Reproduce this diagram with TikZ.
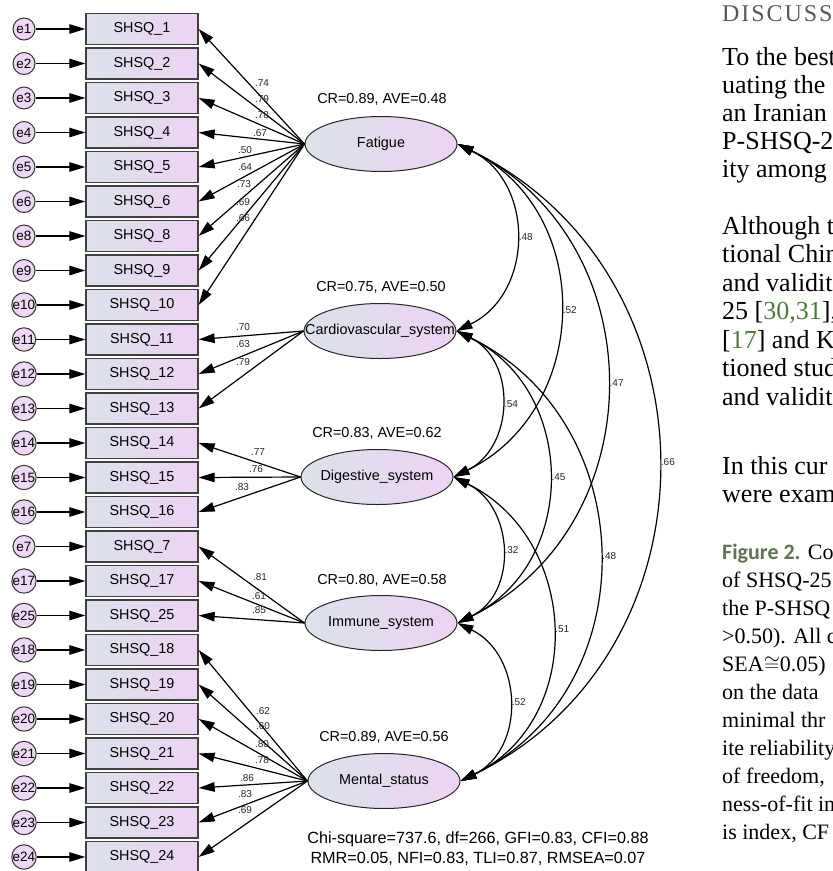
\documentclass[tikz,border=0pt]{standalone}
\usepackage{fontspec}
\setmainfont{Liberation Serif}
\newfontfamily\diagfont{Liberation Sans}
\newfontfamily\capfont{Carlito}
\usetikzlibrary{arrows.meta,shapes.geometric}

\definecolor{shadeblue}{RGB}{219,226,233}
\definecolor{shadepink}{RGB}{237,211,243}
\definecolor{errfill}{RGB}{238,216,245}
\definecolor{citegreen}{RGB}{76,122,60}
\definecolor{figgreen}{RGB}{96,116,84}
\definecolor{headgray}{RGB}{88,88,88}

\begin{document}
\begin{tikzpicture}[
  x=1pt,
  y=-1pt,
  >={Triangle[length=16pt,width=9.5pt]},
  itembox/.style={
    draw=black!75, line width=1.3pt,
    left color=shadeblue, right color=shadepink,
    minimum width=112pt, minimum height=31pt, inner sep=0pt,
    font=\diagfont\fontsize{14.4}{16}\selectfont
  },
  errcirc/.style={
    circle, draw=black!80, line width=1pt, fill=errfill,
    minimum size=22pt, inner sep=0pt,
    font=\diagfont\fontsize{13.5}{15}\selectfont
  },
  factor/.style={
    ellipse, draw=black!85, line width=1pt,
    left color=shadeblue, right color=shadepink,
    minimum width=152pt, minimum height=55pt, inner sep=0pt
  },
  diagtext/.style={font=\diagfont\fontsize{14.4}{19}\selectfont},
  coef/.style={font=\diagfont\fontsize{10}{11}\selectfont, inner sep=1pt, text=black!85},
  errarrow/.style={->, line width=1.2pt},
  loadarrow/.style={->, line width=1.2pt},
  covarrow/.style={<->, line width=1.2pt},
  bodytext/.style={anchor=base west, inner sep=0pt, font=\fontsize{26}{28}\selectfont},
  captext/.style={anchor=base west, inner sep=0pt, font=\fontsize{22}{26}\selectfont}
]

% Canvas
\useasboundingbox (0,0) rectangle (833,871);
\clip (0,0) rectangle (833,871);

% Observed items and their error terms
\foreach \n [count=\i from 0] in {1,2,3,4,5,6,8,9,10,11,12,13,14,15,16,7,17,25,18,19,20,21,22,23,24} {
  \node[itembox] (q\n) at (142,29+34.5*\i) {SHSQ\_\n};
  \node[errcirc] (e\n) at (24,29+34.5*\i) {e\n};
  \draw[errarrow] (e\n) -- (q\n);
}

% Latent factors
\node[factor, label={[diagtext]center:Fatigue}] (fat) at (381,144) {};
\node[factor, label={[diagtext]center:Cardiovascular\_system}] (card) at (380,331) {};
\node[factor, label={[diagtext]center:Digestive\_system}] (dig) at (377,477) {};
\node[factor, label={[diagtext]center:Immune\_system}] (imm) at (381,623) {};
\node[factor, label={[diagtext]center:Mental\_status}] (men) at (384,781) {};

% Reliability labels
\node[diagtext] (crfat) at (382,99) {CR=0.89, AVE=0.48};
\node[diagtext] (crcard) at (381,287) {CR=0.75, AVE=0.50};
\node[diagtext] (crdig) at (377,433) {CR=0.83, AVE=0.62};
\node[diagtext] (crimm) at (382,580) {CR=0.80, AVE=0.58};
\node[diagtext] (crmen) at (384,737) {CR=0.89, AVE=0.56};

% Loadings
\foreach \n/\v/\lx/\ly in {1/.74/262/83, 2/.79/262/99, 3/.78/262/115, 4/.67/260/133, 5/.50/245/150,
    6/.64/245/167, 8/.73/244/184, 9/.69/243/202, 10/.66/243/218} {
  \draw[loadarrow] (fat.west) -- (q\n.east);
  \node[coef] (l\n) at (\lx,\ly) {\v};
}
\foreach \n/\v/\lx/\ly in {11/.70/243/327, 12/.63/243/344, 13/.79/243/362} {
  \draw[loadarrow] (card.west) -- (q\n.east);
  \node[coef] (l\n) at (\lx,\ly) {\v};
}
\foreach \n/\v/\lx/\ly in {14/.77/258/452, 15/.76/256/469, 16/.83/242/487} {
  \draw[loadarrow] (dig.west) -- (q\n.east);
  \node[coef] (l\n) at (\lx,\ly) {\v};
}
\foreach \n/\v/\lx/\ly in {7/.81/260/577, 17/.61/259/596, 25/.85/259/610} {
  \draw[loadarrow] (imm.west) -- (q\n.east);
  \node[coef] (l\n) at (\lx,\ly) {\v};
}
\foreach \n/\v/\lx/\ly in {18/.62/263/711, 19/.60/263/726, 20/.80/262/744, 21/.78/262/760,
    22/.86/247/778, 23/.83/245/794, 24/.69/245/810} {
  \draw[loadarrow] (men.west) -- (q\n.east);
  \node[coef] (l\n) at (\lx,\ly) {\v};
}

% Factor covariances
\foreach \a/\b/\v in {fat/card/.48, fat/dig/.52, fat/imm/.47, fat/men/.66, card/dig/.54,
    card/imm/.45, card/men/.48, dig/imm/.32, dig/men/.51, imm/men/.52} {
  \draw[covarrow] (\a.east) to[out=-26, in=26, looseness=1.18]
    node[coef, right, pos=.5, xshift=2pt] {\v} (\b.east);
}

% Fit indices
\node[diagtext, font=\diagfont\fontsize{16.2}{20}\selectfont, align=center] (fit) at (478,849)
  {Chi-square=737.6, df=266, GFI=0.83, CFI=0.88\\RMR=0.05, NFI=0.83, TLI=0.87, RMSEA=0.07};

% Page text beside the figure
\node[bodytext, font=\fontsize{24}{28}\selectfont\addfontfeatures{LetterSpace=8}, text=headgray]
  (head) at (722,21) {DISCUSS};
\node[bodytext] (t1) at (722,65) {To the best};
\node[bodytext] (t2) at (722,93) {uating the};
\node[bodytext] (t3) at (722,121) {an Iranian};
\node[bodytext] (t4) at (722,149) {P-SHSQ-25};
\node[bodytext] (t5) at (722,177) {ity among};
\node[bodytext] (t6) at (722,234) {Although t};
\node[bodytext] (t7) at (722,262) {tional Chin};
\node[bodytext] (t8) at (722,291) {and validit};
\node[bodytext] (t9) at (722,319) {25 [\textcolor{citegreen}{30,31}],};
\node[bodytext] (t10) at (722,348) {[\textcolor{citegreen}{17}] and K};
\node[bodytext] (t11) at (722,376) {tioned stud};
\node[bodytext] (t12) at (722,405) {and validit};
\node[bodytext] (t13) at (722,474) {In this cur};
\node[bodytext] (t14) at (722,502) {were exam};

\node[captext] (c1) at (722,559) {{\capfont\bfseries\color{figgreen}Figure 2.} Co};
\node[captext] (c2) at (722,587) {of SHSQ-25};
\node[captext] (c3) at (722,615) {the P-SHSQ};
\node[captext] (c4) at (722,643) {>0.50). All c};
\node[captext] (c5) at (722,671) {SEA${\cong}$0.05)};
\node[captext] (c6) at (722,699) {on the data};
\node[captext] (c7) at (722,727) {minimal thr};
\node[captext] (c8) at (722,755) {ite reliability};
\node[captext] (c9) at (722,783) {of freedom,};
\node[captext] (c10) at (722,811) {ness-of-fit in};
\node[captext] (c11) at (722,839) {is index, CF};

\end{tikzpicture}
\end{document}
